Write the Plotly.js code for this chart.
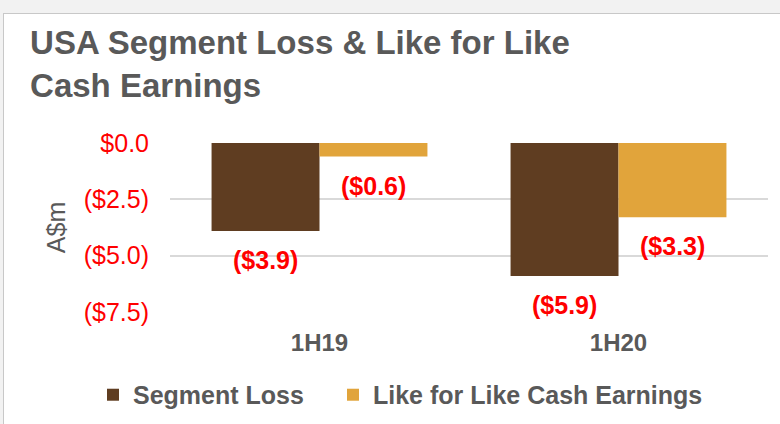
<!DOCTYPE html>
<html>
<head>
<meta charset="utf-8">
<script src="https://cdn.plot.ly/plotly-3.0.1.min.js"></script>
<style>
  html, body { margin: 0; padding: 0; background: #f2f2f2; overflow: hidden; width: 780px; height: 424px; }
  #chart { position: absolute; left: 3px; top: 13px; width: 790px; height: 420px;
           border-left: 1px solid #c8c8c8; border-top: 1px solid #c8c8c8; background: #fff; }
</style>
</head>
<body>
<div id="chart"></div>
<script>
const categories = ["1H19", "1H20"];
const segmentLoss = [-3.9, -5.9];
const likeForLike = [-0.6, -3.3];
const segmentLabels = ["($3.9)", "($5.9)"];
const likeLabels = ["($0.6)", "($3.3)"];
const seriesNames = ["Segment Loss", "Like for Like Cash Earnings"];
const yTickVals = [0, -2.5, -5, -7.5];
const yTickText = ["$0.0", "($2.5)", "($5.0)", "($7.5)"];

const font = "Liberation Sans, Arial, sans-serif";
const grey = "#595959";
const red = "#ff0000";
const bargap = 0.278;
const off = (1 - bargap) / 4;

const traces = [
  { type: "bar", name: seriesNames[0], x: categories, y: segmentLoss, legendwidth: 195,
    marker: { color: "#5f3d21", line: { width: 0 } }, hoverinfo: "none" },
  { type: "bar", name: seriesNames[1], x: categories, y: likeForLike,
    marker: { color: "#e1a43b", line: { width: 0 } }, hoverinfo: "none" }
];

const annotations = [];
categories.forEach((c, i) => {
  annotations.push({ x: i - off, y: segmentLoss[i], xref: "x", yref: "y", text: segmentLabels[i],
    showarrow: false, yanchor: "middle", yshift: -29,
    font: { family: font, size: 25, color: red, weight: "bold" } });
  annotations.push({ x: i + off, y: likeForLike[i], xref: "x", yref: "y", text: likeLabels[i],
    showarrow: false, yanchor: "middle", yshift: -29,
    font: { family: font, size: 25, color: red, weight: "bold" } });
});

const layout = {
  width: 790, height: 420,
  margin: { l: 166, r: 26, t: 129, b: 122, pad: 0 },
  paper_bgcolor: "#ffffff", plot_bgcolor: "#ffffff",
  barmode: "group", bargap: bargap, bargroupgap: 0,
  title: { text: "USA Segment Loss & Like for Like<br>Cash Earnings",
    font: { family: font, size: 33, color: grey, weight: "bold" },
    xref: "container", yref: "container", x: 0.033, xanchor: "left",
    y: 0.905, yanchor: "top" },
  xaxis: { type: "category", range: [-0.5, 1.5], showgrid: false, zeroline: false, showline: false,
    ticks: "", ticklabelstandoff: 14,
    tickfont: { family: font, size: 24, color: grey, weight: "bold" } },
  yaxis: { range: [-7.5, 0], tickvals: yTickVals, ticktext: yTickText,
    showgrid: true, gridcolor: "#d9d9d9", gridwidth: 2, zeroline: false, showline: false,
    ticks: "", ticklabelstandoff: 20,
    tickfont: { family: font, size: 25, color: red },
    title: { text: "A$m", standoff: 10, font: { family: font, size: 25, color: grey } } },
  showlegend: true,
  legend: { orientation: "h", xref: "paper", yref: "paper",
    x: -0.1288, xanchor: "left", y: -0.491, yanchor: "middle",
    traceorder: "normal",
    font: { family: font, size: 25, color: grey, weight: "bold" } },
  annotations: annotations
};

Plotly.newPlot("chart", traces, layout, { displayModeBar: false, staticPlot: true });
</script>
</body>
</html>
